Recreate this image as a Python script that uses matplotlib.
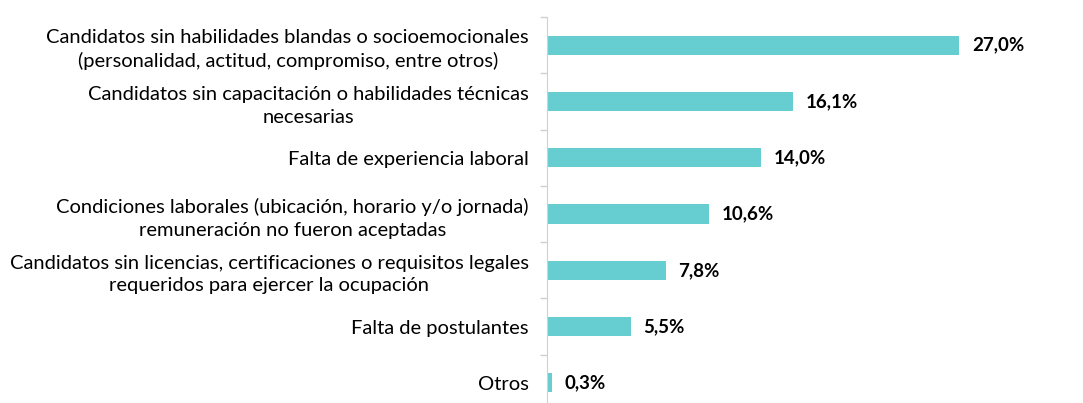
import matplotlib.pyplot as plt

categories = [
    "Candidatos sin habilidades blandas o socioemocionales\n(personalidad, actitud, compromiso, entre otros)",
    "Candidatos sin capacitación o habilidades técnicas\nnecesarias",
    "Falta de experiencia laboral",
    "Condiciones laborales (ubicación, horario y/o jornada)\nremuneración no fueron aceptadas",
    "Candidatos sin licencias, certificaciones o requisitos legales\nrequeridos para ejercer la ocupación",
    "Falta de postulantes",
    "Otros",
]
values = [27.0, 16.1, 14.0, 10.6, 7.8, 5.5, 0.3]

plt.rcParams["font.family"] = ["Lato", "DejaVu Sans"]

fig = plt.figure(figsize=(10.83, 4.03), dpi=100)
ax = fig.add_axes([547 / 1083, -8 / 403, 1 - 547 / 1083, 394 / 403])

pos = list(range(len(values)))
ax.barh(pos, values, height=0.34, color="#66CED1")
ax.set_ylim(len(values) - 0.5, -0.5)
ax.set_xlim(0, 35.1)

for y, v in zip(pos, values):
    ax.annotate(f"{v:.1f}%".replace(".", ","), (v, y), xytext=(9, 0),
                textcoords="offset points", va="center", ha="left",
                fontsize=13.5, fontweight="bold", color="black")

ax.set_yticks(pos)
ax.set_yticklabels(categories, fontsize=14.5, multialignment="center",
                   linespacing=1.4)
ax.set_yticks([p + 0.5 for p in pos[:-1]] + [-0.5], minor=True)
ax.tick_params(axis="y", which="major", length=0, pad=13)
ax.tick_params(axis="y", which="minor", length=5, color="#d0d0d0", width=1)
ax.set_xticks([])

for side in ["top", "right", "bottom"]:
    ax.spines[side].set_visible(False)
ax.spines["left"].set_color("#d0d0d0")

fig.savefig("out.png", dpi=100)
plt.close(fig)
